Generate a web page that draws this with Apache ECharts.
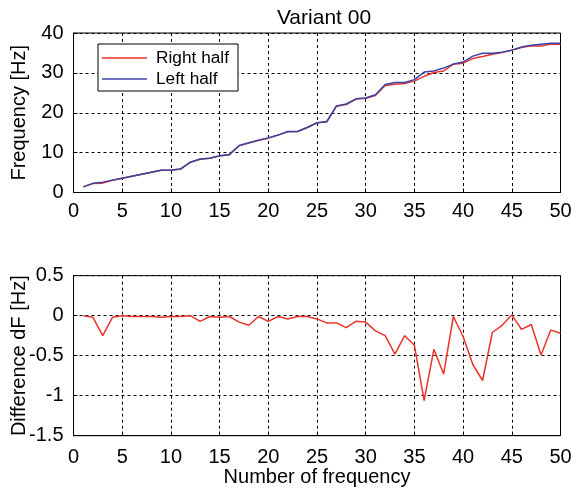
<!DOCTYPE html>
<html><head><meta charset="utf-8">
<script src="https://cdn.jsdelivr.net/npm/echarts@6/dist/echarts.min.js"></script>
<style>html,body{margin:0;padding:0;background:#fff}#c{width:577px;height:490px}</style>
</head><body><div id="c"></div>
<script>
const freqIndex = Array.from({length:50},(_,i)=>i+1);
const leftHalf = [1.4,2.3,2.6,3.1,3.6,4.1,4.6,5.1,5.6,5.6,5.9,7.6,8.4,8.6,9.2,9.5,11.8,12.5,13.1,13.7,14.4,15.3,15.3,16.3,17.5,17.8,21.7,22.2,23.5,23.7,24.5,27.1,27.6,27.6,28.3,30.2,30.5,31.2,32.2,32.7,34.2,34.9,34.9,35.2,35.7,36.5,36.9,37.2,37.4,37.4];
const rightHalf = [1.4,2.28,2.35,3.08,3.6,4.09,4.59,5.09,5.58,5.59,5.89,7.6,8.33,8.59,9.18,9.49,11.72,12.38,13.09,13.63,14.39,15.26,15.29,16.29,17.46,17.71,21.61,22.05,23.43,23.62,24.31,26.85,27.12,27.35,27.93,29.14,30.08,30.47,32.19,32.44,33.59,34.09,34.69,35.08,35.71,36.33,36.79,36.71,37.22,37.18];
const diffF = [0,-0.02,-0.25,-0.02,0,-0.01,-0.01,-0.01,-0.02,-0.01,-0.01,0,-0.07,-0.01,-0.02,-0.01,-0.08,-0.12,-0.01,-0.07,-0.01,-0.04,-0.01,-0.01,-0.04,-0.09,-0.09,-0.15,-0.07,-0.08,-0.19,-0.25,-0.48,-0.25,-0.37,-1.06,-0.42,-0.73,-0.01,-0.26,-0.61,-0.81,-0.21,-0.12,0.01,-0.17,-0.11,-0.49,-0.18,-0.22];
const xTicks = [0,50,5];
const topTicks = [0,40,10];
const botTicks = [-1.5,0.5,0.5];

const FONT = 'Liberation Sans';
const RED = '#e8342b', BLUE = '#3b43a6';
const chart = echarts.init(document.getElementById('c'), null, {renderer:'canvas'});
const split = {show:true, lineStyle:{color:'#000', type:[3,3], width:1}};
const axLine = {show:true, onZero:false, lineStyle:{color:'#000', width:1}};
const lbl = {color:'#000', fontFamily:FONT, fontSize:20};
function xAxis(idx, name, margin){
  return {type:'value', gridIndex:idx, min:xTicks[0], max:xTicks[1], interval:xTicks[2],
    axisLine:axLine, axisTick:{show:true, inside:true, length:4, lineStyle:{color:'#000'}},
    axisLabel:Object.assign({margin:margin}, lbl), splitLine:split,
    name:name||'', nameLocation:'middle', nameGap:32, nameMoveOverlap:false,
    nameTextStyle:{color:'#000', fontFamily:FONT, fontSize:20}};
}
function yAxis(idx, t, name, gap){
  return {type:'value', gridIndex:idx, min:t[0], max:t[1], interval:t[2],
    axisLine:axLine, axisTick:{show:true, inside:true, length:4, lineStyle:{color:'#000'}},
    axisLabel:Object.assign({margin:10}, lbl), splitLine:split,
    name:name, nameLocation:'middle', nameGap:gap, nameMoveOverlap:false,
    nameTextStyle:{color:'#000', fontFamily:FONT, fontSize:20}};
}
const pairs = (ys)=>freqIndex.map((x,i)=>[x,ys[i]]);
chart.setOption({
  animation:false,
  backgroundColor:'#fff',
  title:{text:'Variant 00', left:319, top:3, textAlign:'center',
    textStyle:{color:'#000', fontFamily:FONT, fontSize:21, fontWeight:'normal'}},
  grid:[
    {left:73.5, right:16.5, top:33, height:159.5, show:true, borderColor:'#000', borderWidth:1, backgroundColor:'transparent', containLabel:false, outerBoundsMode:'none'},
    {left:73.5, right:16.5, top:275.7, height:160, show:true, borderColor:'#000', borderWidth:1, backgroundColor:'transparent', containLabel:false, outerBoundsMode:'none'}
  ],
  legend:{data:['Right half','Left half'], orient:'vertical', left:98, top:44,
    padding:[4,9,2,4], itemGap:1, itemWidth:45, itemHeight:1.5, icon:'rect',
    backgroundColor:'#fff', borderColor:'#000', borderWidth:1, borderRadius:0,
    textStyle:{color:'#000', fontFamily:FONT, fontSize:17.3, lineHeight:20, padding:[0,0,0,4]}},
  xAxis:[xAxis(0,'',9), xAxis(1,'Number of frequency',12)],
  yAxis:[yAxis(0, topTicks, 'Frequency [Hz]', 44), yAxis(1, botTicks, 'Difference dF [Hz]', 44)],
  series:[
    {name:'Right half', type:'line', xAxisIndex:0, yAxisIndex:0, data:pairs(rightHalf), showSymbol:false, symbol:'none', lineStyle:{color:RED, width:1.5}, itemStyle:{color:RED}},
    {name:'Left half', type:'line', xAxisIndex:0, yAxisIndex:0, data:pairs(leftHalf), showSymbol:false, symbol:'none', lineStyle:{color:BLUE, width:1.5}, itemStyle:{color:BLUE}},
    {name:'dF', type:'line', xAxisIndex:1, yAxisIndex:1, data:pairs(diffF), showSymbol:false, symbol:'none', lineStyle:{color:RED, width:1.5}, itemStyle:{color:RED}}
  ]
});
</script></body></html>
